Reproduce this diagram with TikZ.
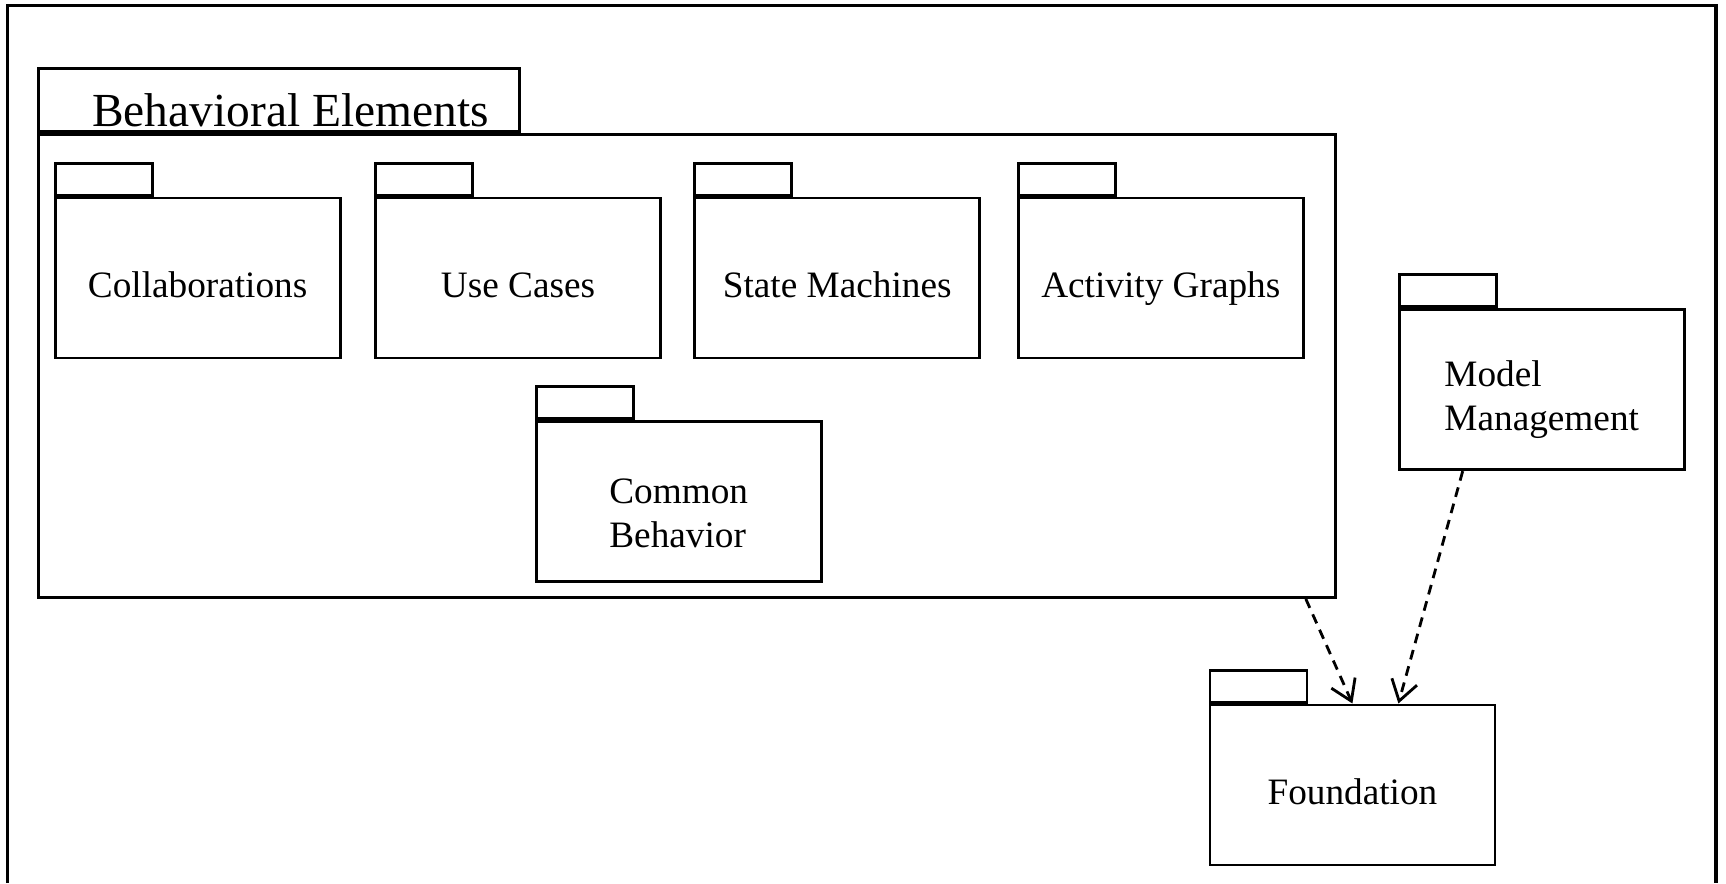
\documentclass[tikz,border=0pt]{standalone}
\usepackage{fontspec}
\setmainfont{Liberation Serif}
\usepackage{tikz}
\usetikzlibrary{
    arrows.meta,
    positioning
}

\begin{document}
\begin{tikzpicture}[->,>={Straight Barb[length=2mm,width=2.6mm]},line width=0.8pt]
    \tikzstyle{pkg}=[draw, shape=rectangle, minimum width=2.85cm, minimum height=1.6cm, inner sep=0pt, align=left, font=\fontsize{10.6pt}{12.6pt}\selectfont]
    \tikzstyle{pkgone}=[pkg, text height=11pt, text depth=0pt]
    \tikzstyle{pkgtab}=[draw, shape=rectangle, minimum width=0.97cm, minimum height=0.32cm, inner sep=0pt, anchor=south west]
    \tikzstyle{dep}=[->, dash pattern=on 2.8pt off 2pt]
    \useasboundingbox (0,0) rectangle (17.26,-8.83);
    \draw [-, line width=1pt] (0.077,-8.83) |- (17.16,-0.055) -- (17.16,-8.83);

    \node [draw, minimum width=12.97cm, minimum height=4.63cm, inner sep=0pt] (bhv) at (6.869, -3.66) {};
    \node [draw, anchor=south west, minimum width=4.81cm, minimum height=0.63cm, inner sep=0pt, text height=15pt, text depth=0pt, font=\fontsize{13.5pt}{16pt}\selectfont] (bhvtab) at (bhv.north west) {\hspace*{0.23cm}Behavioral Elements};

    \node [pkgone] (collab) at (1.976, -2.78) {Collaborations};
    \node [pkgtab] (collabtab) at (collab.north west) {};
    \node [pkgone] (usecase) at (5.18, -2.78) {Use Cases};
    \node [pkgtab] (usecasetab) at (usecase.north west) {};
    \node [pkgone] (statem) at (8.372, -2.78) {State Machines};
    \node [pkgtab] (statemtab) at (statem.north west) {};
    \node [pkgone] (activity) at (11.608, -2.78) {Activity Graphs};
    \node [pkgtab] (activitytab) at (activity.north west) {};
    \node [pkg] (common) at (6.787, -5.014) {\\[1.1pt]Common\\Behavior};
    \node [pkgtab] (commontab) at (common.north west) {};

    \node [pkg] (model) at (15.417, -3.897) {\\[0.4pt]Model\\Management};
    \node [pkgtab] (modeltab) at (model.north west) {};
    \node [pkgone] (found) at (13.524, -7.849) {Foundation};
    \node [pkgtab] (foundtab) at (found.north west) {};

    \draw [dep] ([xshift=-0.31cm]bhv.south east) -- (found.north);
    \draw [dep] ([xshift=-0.79cm]model.south) -- ([xshift=0.46cm]found.north);
\end{tikzpicture}
\end{document}
